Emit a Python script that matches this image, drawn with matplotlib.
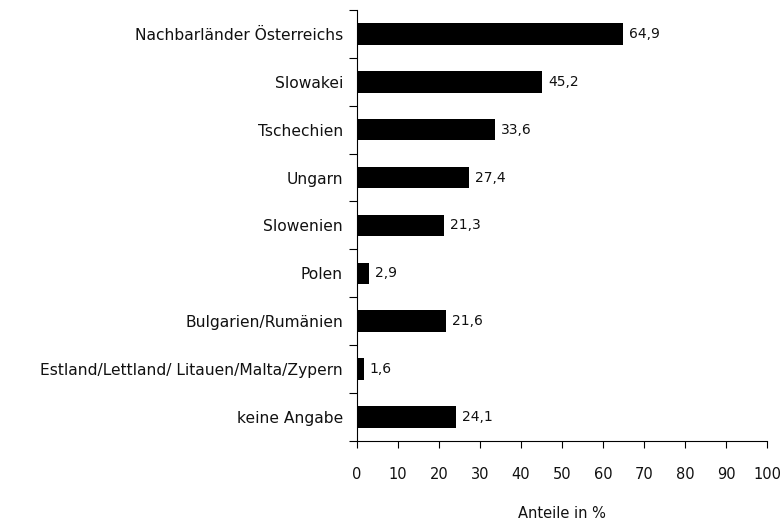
import matplotlib.pyplot as plt
import numpy as np

plt.rcParams['font.family'] = ['DejaVu Sans']

categories = ['Nachbarländer Österreichs', 'Slowakei', 'Tschechien', 'Ungarn',
              'Slowenien', 'Polen', 'Bulgarien/Rumänien',
              'Estland/Lettland/ Litauen/Malta/Zypern', 'keine Angabe']
values = [64.9, 45.2, 33.6, 27.4, 21.3, 2.9, 21.6, 1.6, 24.1]
value_labels = ['64,9', '45,2', '33,6', '27,4', '21,3', '2,9', '21,6', '1,6', '24,1']

fig = plt.figure(figsize=(7.82, 5.2), dpi=100)
ax = fig.add_axes([0.4565, 0.152, 0.5243, 0.829])

y = np.arange(len(categories))
ax.barh(y, values, height=0.45, color='black')
for yi, v, lab in zip(y, values, value_labels):
    ax.text(v + 1.5, yi, lab, va='center', ha='left', fontsize=10, color='#111111')

ax.set_ylim(len(categories) - 0.5, -0.5)
ax.set_xlim(0, 100)
ax.set_xticks(np.arange(0, 101, 10))
ax.tick_params(axis='x', direction='out', length=5, pad=14, labelsize=10.5,
               labelcolor='#111111')

# y ticks sit between the categories, labels centred on bars
ax.set_yticks(np.arange(len(categories) + 1) - 0.5)
ax.set_yticklabels([])
ax.set_yticks(y, minor=True)
ax.set_yticklabels(categories, minor=True, fontsize=11.2, color='#111111')
ax.tick_params(axis='y', which='major', direction='out', length=6)
ax.tick_params(axis='y', which='minor', length=0, pad=10)

for s in ['top', 'right']:
    ax.spines[s].set_visible(False)

ax.set_xlabel('Anteile in %', fontsize=10.5, labelpad=17, color='#111111')

fig.savefig('out.png', dpi=100)
